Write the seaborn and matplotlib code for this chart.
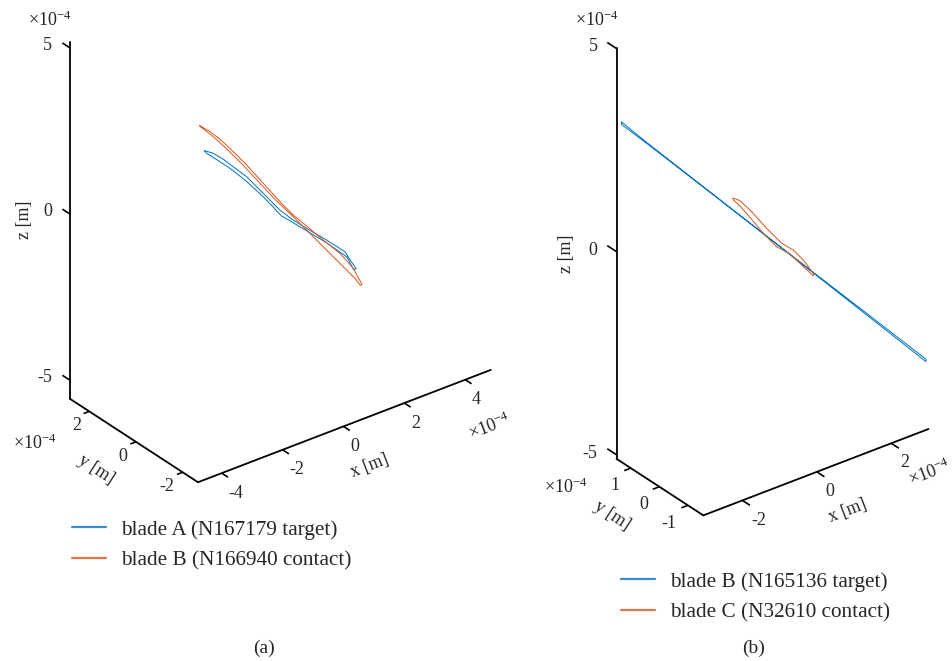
import numpy as np
import matplotlib
matplotlib.use("Agg")
import matplotlib.pyplot as plt
from mpl_toolkits.mplot3d import proj3d
import seaborn as sns

# Node trajectories, coordinates in units of 1e-4 m
# (a) blade A node N167179 (target) / blade B node N166940 (contact)
a_target_x = [-2.524, -2.250, -1.920, -1.590, -1.148, -0.600, -0.049, 0.389, 0.831, 1.491, 2.095, 2.260, 2.458,
              2.369, 2.151, 1.491, 0.831, 0.280, 0.007, -0.600, -1.204, -1.699, -2.029, -2.468, -2.524]
a_target_y = [0.0, 0.0, 0.0, 0.0, 0.0, 0.0, 0.0, 0.0, 0.0, 0.0, 0.0, 0.0, 0.0,
              0.0, 0.0, 0.0, 0.0, 0.0, 0.0, 0.0, 0.0, 0.0, 0.0, 0.0, 0.0]
a_target_z = [2.405, 2.239, 1.942, 1.602, 1.144, 0.450, -0.249, -0.705, -1.112, -1.697, -2.263, -2.572, -2.893,
              -2.892, -2.434, -1.779, -1.184, -0.688, -0.450, 0.347, 1.064, 1.592, 1.907, 2.316, 2.405]

a_contact_x = [-2.689, -2.359, -1.973, -1.534, -1.148, -0.600, -0.049, 0.389, 0.831, 1.379, 1.930, 2.369, 2.481,
               2.646, 2.590, 2.425, 2.204, 1.709, 1.049, 0.389, -0.158, -0.709, -1.260, -1.808, -2.250, -2.633,
               -2.689]
a_contact_y = [0.0, 0.0, 0.0, 0.0, 0.0, 0.0, 0.0, 0.0, 0.0, 0.0, 0.0, 0.0, 0.0,
               0.0, 0.0, 0.0, 0.0, 0.0, 0.0, 0.0, 0.0, 0.0, 0.0, 0.0, 0.0, 0.0, 0.0]
a_contact_z = [3.219, 2.931, 2.523, 1.987, 1.498, 0.752, 0.002, -0.554, -1.042, -1.658, -2.254, -2.861, -3.103,
               -3.433, -3.444, -3.183, -2.906, -2.279, -1.442, -0.605, 0.060, 0.790, 1.530, 2.220, 2.740, 3.150,
               3.219]

# (b) blade B node N165136 (target) / blade C node N32610 (contact)
b_target_x = [-2.960, -2.418, -1.515, -0.311, 0.833, 1.796, 2.970, 2.970, 1.796, 0.833, -0.311, -1.515, -2.418,
              -2.960, -2.960]
b_target_y = [1.440, 1.172, 0.725, 0.129, -0.437, -0.914, -1.495, -1.495, -0.914, -0.437, 0.129, 0.725, 1.172,
              1.440, 1.440]
b_target_z = [3.185, 2.563, 1.558, 0.222, -1.044, -2.100, -3.394, -3.454, -2.140, -1.060, 0.214, 1.548, 2.543,
              3.125, 3.185]

b_contact_x = [-0.788, -0.657, -0.428, -0.135, 0.158, 0.385, 0.581, 0.776, 0.776, 0.516, 0.321, 0.060, -0.201,
               -0.461, -0.657, -0.788, -0.788]
b_contact_y = [0.365, 0.300, 0.187, 0.042, -0.103, -0.215, -0.312, -0.409, -0.409, -0.280, -0.184, -0.055, 0.075,
               0.204, 0.300, 0.365, 0.365]
b_contact_z = [1.042, 0.966, 0.665, 0.218, -0.189, -0.383, -0.655, -1.008, -1.068, -0.728, -0.474, -0.261, 0.103,
               0.531, 0.835, 1.000, 1.042]

a_labels = ["blade A (N167179 target)", "blade B (N166940 contact)"]
b_labels = ["blade B (N165136 target)", "blade C (N32610 contact)"]

a_xticks, a_yticks, a_zticks = [-4, -2, 0, 2, 4], [-2, 0, 2], [-5, 0, 5]
b_xticks, b_yticks, b_zticks = [-2, 0, 2], [-1, 0, 1], [-5, 0, 5]

sns.set_theme(style="white")
palette = sns.color_palette(["#0072BD", "#D95319"])
plt.rcParams.update({
    "font.family": ["Liberation Serif", "DejaVu Serif"],
    "mathtext.fontset": "custom",
    "mathtext.rm": "Liberation Serif",
    "mathtext.it": "Liberation Serif:italic",
    "axes.unicode_minus": False,
})

FW, FH = 952, 661
TICK_FS = 13
fig = plt.figure(figsize=(FW / 100, FH / 100), dpi=100)


def px(x, y):
    """figure fraction from pixel position (origin top-left)"""
    return x / FW, 1 - y / FH


def panel(lims, center, scale):
    """3-D axes with equal data scaling (`scale` px per unit) and its box centred at `center`."""
    ranges = np.array([hi - lo for lo, hi in lims])
    c = 1.8294640721620434 / np.linalg.norm(ranges)
    w = scale * 1.85 / c / 1.037
    f = 0.095 / 0.185
    left = center[0] - f * w
    bottom = (FH - center[1]) - f * w
    ax = fig.add_axes([left / FW, bottom / FH, w / FW, w / FH], projection="3d")
    ax.set_proj_type("ortho")
    ax.view_init(elev=30, azim=-127.5)
    ax.set_xlim(*lims[0])
    ax.set_ylim(*lims[1])
    ax.set_zlim(*lims[2])
    ax.set_box_aspect(ranges)
    ax.patch.set_alpha(0)
    ax.grid(False)
    for axis in (ax.xaxis, ax.yaxis, ax.zaxis):
        axis.set_pane_color((1, 1, 1, 0))
        axis.pane.set_edgecolor((1, 1, 1, 0))
        axis.line.set_color("black")
        axis.line.set_linewidth(1.3)
    ax.set_xticks([])
    ax.set_yticks([])
    ax.set_zticks([])
    return ax


def label_at(ax, x, y, z, s, **kw):
    """2-D text anchored at the projection of the 3-D point (x, y, z)."""
    X, Y, _ = proj3d.proj_transform(x, y, z, ax.get_proj())
    ax.text2D(X, Y, s, transform=ax.transData, **kw)


def ticks(ax, lims, scale, xt, yt, zt, tick_px, off):
    """Outward tick marks (x along -y, y along -x, z along +y) and their labels."""
    (x0, _), (y0, y1), (z0, _) = lims
    lx = tick_px[0] / (scale * 0.727)
    ly = tick_px[1] / (scale * 0.850)
    lz = tick_px[2] / (scale * 0.727)
    tk = dict(color="black", lw=1.2, solid_capstyle="butt")
    kw = dict(va="center_baseline", fontsize=TICK_FS)
    for v in xt:
        ax.plot([v, v], [y0, y0 - lx], [z0, z0], **tk)
        label_at(ax, v, y0 - off["x"][0], z0 - off["x"][1], f"{v:d}", ha="left", **kw)
    for v in yt:
        ax.plot([x0, x0 - ly], [v, v], [z0, z0], **tk)
        label_at(ax, x0 - off["y"][0], v, z0 - off["y"][1], f"{v:d}", ha="right", **kw)
    for v in zt:
        ax.plot([x0, x0], [y1, y1 + lz], [v, v], **tk)
        label_at(ax, x0 - off["z"][0], y1 + off["z"][1], v, f"{v:d}", ha="right", **kw)


def axis_names(pos):
    for (x, y, rot), name in zip(pos, ["x [m]", "y [m]", "z [m]"]):
        fig.text(*px(x, y), name, fontsize=13, ha="center", va="center", rotation=rot)


lims_a = [(-4.78, 4.84), (-2.655, 2.825), (-5.56, 5.18)]
ax_a = panel(lims_a, (280.4, 205.9), 38.2)
ax_a.plot(a_target_x, a_target_y, a_target_z, color=palette[0], lw=0.7, label=a_labels[0])
ax_a.plot(a_contact_x, a_contact_y, a_contact_z, color=palette[1], lw=0.7, label=a_labels[1])
ticks(ax_a, lims_a, 38.2, a_xticks, a_yticks, a_zticks, (7.5, 6.0, 9.0),
      {"x": (0.292, 0.407), "y": (0.274, 0.281), "z": (0.232, 0.455)})
axis_names([(370, 466, 21), (96, 470, -33), (24, 220, 90)])

lims_b = [(-3.05, 3.0), (-1.54, 1.5), (-5.1, 5.0)]
ax_b = panel(lims_b, (772.5, 238.75), 46.7)
ax_b.plot(b_target_x, b_target_y, b_target_z, color=palette[0], lw=0.7, label=b_labels[0])
ax_b.plot(b_contact_x, b_contact_y, b_contact_z, color=palette[1], lw=0.7, label=b_labels[1])
ticks(ax_b, lims_b, 46.7, b_xticks, b_yticks, b_zticks, (9.0, 7.0, 11.0),
      {"x": (0.302, 0.297), "y": (0.297, 0.286), "z": (0.232, 0.367)})
axis_names([(848, 511, 21), (612, 516, -33), (567, 254, 90)])

# exponent markers of the axes
exp = r"$\times10^{-4}$"
for (x, y, rot) in [(50, 20, 0), (35, 443, 0), (490, 427, 21),
                    (597, 20, 0), (566, 487, 0), (930, 473, 21)]:
    fig.text(*px(x, y), exp, fontsize=13, ha="center", va="center", rotation=rot)

for ax, (lx, ly) in [(ax_a, (71.7, 520)), (ax_b, (621, 572))]:
    h, l = ax.get_legend_handles_labels()
    leg = fig.legend(h, l, loc="upper left", bbox_to_anchor=px(lx, ly), frameon=False, fontsize=15.3,
                     handlelength=1.6, handletextpad=0.7, labelspacing=0.5, borderpad=0, borderaxespad=0)
    for line in leg.get_lines():
        line.set_linewidth(1.6)
        line.set_alpha(0.8)

fig.text(*px(263.6, 648), "(a)", fontsize=14, ha="center", va="center")
fig.text(*px(753.5, 648), "(b)", fontsize=14, ha="center", va="center")

fig.savefig("out.png", dpi=100)
